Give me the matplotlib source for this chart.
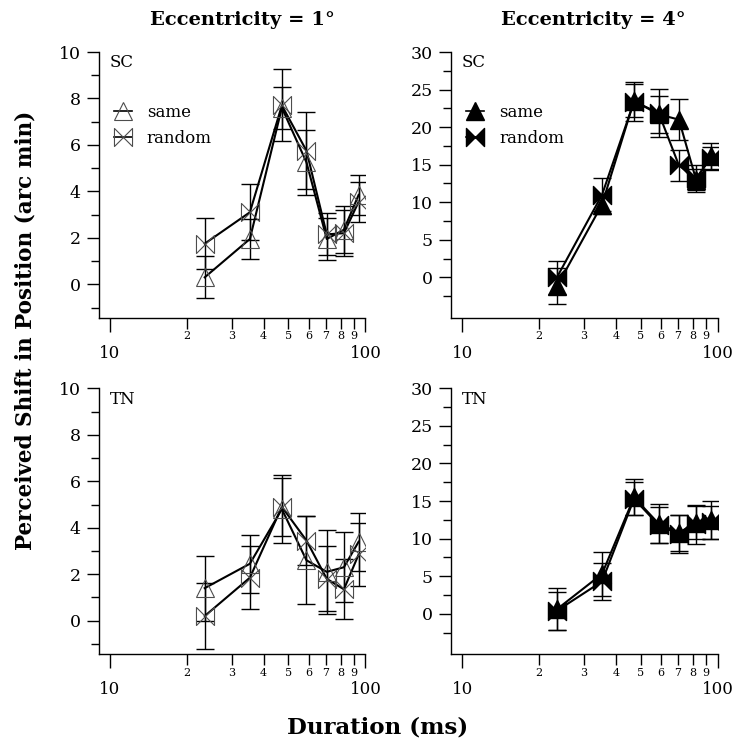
import matplotlib
matplotlib.use('Agg')
import matplotlib.pyplot as plt
from matplotlib.path import Path
from matplotlib.lines import Line2D

plt.rcParams['font.family'] = ['DejaVu Serif']

# durations (ms)
durations = [23.5, 35.3, 47.1, 58.8, 70.6, 82.4, 94.1]

# eccentricity 1 deg, observer SC
sc1_same = [0.3, 1.95, 7.6, 5.25, 1.95, 2.35, 3.85]
sc1_same_err = [0.9, 0.88, 0.9, 1.4, 0.9, 1.0, 0.85]
sc1_random = [1.75, 3.1, 7.7, 5.75, 2.15, 2.2, 3.55]
sc1_random_err = [1.1, 1.2, 1.55, 1.65, 0.9, 1.0, 0.87]

# eccentricity 4 deg, observer SC
sc4_same = [-1.2, 9.7, 23.5, 21.7, 21.0, 13.0, 16.1]
sc4_same_err = [2.4, 1.3, 2.2, 2.5, 2.7, 1.4, 1.8]
sc4_random = [0.0, 11.0, 23.4, 21.9, 14.9, 13.2, 15.9]
sc4_random_err = [2.2, 2.2, 2.6, 3.2, 2.1, 1.8, 1.5]

# eccentricity 1 deg, observer TN
tn1_same = [1.4, 2.45, 4.8, 2.6, 2.1, 2.3, 3.4]
tn1_same_err = [1.4, 1.25, 1.45, 1.9, 1.8, 1.5, 1.25]
tn1_random = [0.2, 1.85, 4.9, 3.45, 1.8, 1.35, 2.85]
tn1_random_err = [1.4, 1.35, 1.25, 1.05, 1.4, 1.3, 1.35]

# eccentricity 4 deg, observer TN
tn4_same = [0.6, 5.3, 15.5, 12.0, 10.8, 12.1, 12.5]
tn4_same_err = [2.8, 2.9, 2.4, 2.6, 2.4, 2.2, 2.5]
tn4_random = [0.4, 4.3, 15.3, 11.8, 10.6, 11.9, 12.2]
tn4_random_err = [2.5, 2.5, 2.2, 2.4, 2.5, 2.6, 2.2]

titles = ['Eccentricity = 1°', 'Eccentricity = 4°']
observers = ['SC', 'TN']
minor_labels = ['2', '3', '4', '5', '6', '7', '8', '9']

# bowtie marker for "random"
bowtie = Path([(-1, -1), (1, 1), (1, -1), (-1, 1), (-1, -1)],
              [Path.MOVETO, Path.LINETO, Path.LINETO, Path.LINETO, Path.CLOSEPOLY])

fig = plt.figure(figsize=(7.34, 7.45), dpi=100)

col_left = [0.1347, 0.6145]
row_bottom = [0.5732, 0.1217]
w, h = 0.3631, 0.357

panels = [
    (0, 0, sc1_same, sc1_same_err, sc1_random, sc1_random_err),
    (0, 1, sc4_same, sc4_same_err, sc4_random, sc4_random_err),
    (1, 0, tn1_same, tn1_same_err, tn1_random, tn1_random_err),
    (1, 1, tn4_same, tn4_same_err, tn4_random, tn4_random_err),
]

for row, col, same, same_err, rnd, rnd_err in panels:
    ax = fig.add_axes([col_left[col], row_bottom[row], w, h])
    filled = col == 1
    fc = 'black' if filled else 'none'
    ec = 'black' if filled else '0.3'
    mew = 1.0 if filled else 0.8

    for y, e, mk in [(same, same_err, '^'), (rnd, rnd_err, bowtie)]:
        ax.errorbar(durations, y, yerr=e, fmt='none', ecolor='black',
                    elinewidth=1.0, capsize=6.5, capthick=1.0, zorder=2)
        ax.plot(durations, y, '-', color='black', lw=1.5, zorder=3)
        ax.plot(durations, y, linestyle='none', marker=mk, ms=13,
                mfc=fc, mec=ec, mew=mew, zorder=4)

    ax.set_xscale('log')
    ax.set_xlim(9.05, 100)
    ax.set_xticks([10, 100])
    ax.set_xticklabels(['10', '100'])
    ax.set_xticks([20, 30, 40, 50, 60, 70, 80, 90], minor=True)
    ax.set_xticklabels(minor_labels, minor=True)
    ax.tick_params(axis='x', which='major', length=10, width=1, pad=9.5, labelsize=12)
    ax.tick_params(axis='x', which='minor', length=8, width=1, pad=1.5, labelsize=8)

    if col == 0:
        ax.set_ylim(-1.45, 10)
        ax.set_yticks([0, 2, 4, 6, 8, 10])
        ax.set_yticks([-1, 1, 3, 5, 7, 9], minor=True)
    else:
        ax.set_ylim(-5.4, 30)
        ax.set_yticks([0, 5, 10, 15, 20, 25, 30])
        ax.set_yticks([-2.5, 2.5, 7.5, 12.5, 17.5, 22.5, 27.5], minor=True)
    ax.tick_params(axis='y', which='major', length=9, width=1, pad=4, labelsize=12.5)
    ax.tick_params(axis='y', which='minor', length=6, width=1)

    for s in ['top', 'right']:
        ax.spines[s].set_visible(False)
    for s in ['left', 'bottom']:
        ax.spines[s].set_linewidth(1.0)

    ax.text(0.04, 0.96, observers[row], transform=ax.transAxes,
            fontsize=12, va='center', ha='left')

    if row == 0:
        handles = [
            Line2D([], [], color='black', lw=1.2, marker='^', ms=13,
                   mfc=fc, mec=ec, mew=mew),
            Line2D([], [], color='black', lw=1.2, marker=bowtie, ms=13,
                   mfc=fc, mec=ec, mew=mew),
        ]
        ax.legend(handles, ['same', 'random'], loc='upper left',
                  bbox_to_anchor=(0.055, 0.805), frameon=False, fontsize=12,
                  handlelength=1.1, handletextpad=0.9, labelspacing=0.55,
                  borderpad=0, borderaxespad=0)

fig.text(0.33, 0.973, titles[0], ha='center', va='center', fontsize=14, fontweight='bold')
fig.text(0.809, 0.973, titles[1], ha='center', va='center', fontsize=14, fontweight='bold')
fig.text(0.035, 0.557, 'Perceived Shift in Position (arc min)', rotation=90,
         ha='center', va='center', fontsize=15.5, fontweight='bold')
fig.text(0.515, 0.023, 'Duration (ms)', ha='center', va='center',
         fontsize=16.5, fontweight='bold')

fig.savefig('out.png', dpi=100)
